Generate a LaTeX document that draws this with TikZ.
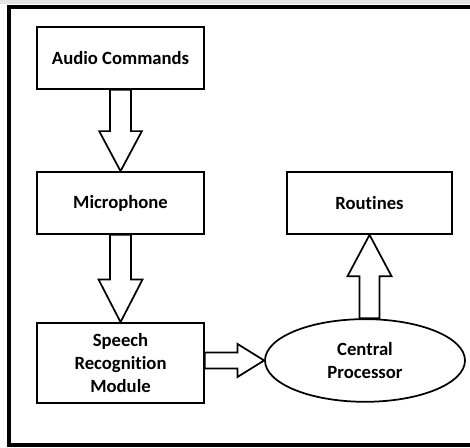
\documentclass[tikz,border=0pt]{standalone}
\usepackage{fontspec}
\setmainfont[Ligatures=NoCommon]{Carlito}
\usetikzlibrary{shapes,calc}
\tikzstyle{blk}=[rectangle,draw,line width=1.3pt,align=center,minimum width=125pt,minimum height=46.5pt,font=\fontsize{14}{17.5}\selectfont\bfseries]
\tikzstyle{oval}=[ellipse,draw,line width=1.3pt,align=center,minimum width=150pt,minimum height=62pt,font=\fontsize{14}{17.5}\selectfont\bfseries]
\tikzstyle{fat}=[draw,fill=white,line width=1.3pt,line join=miter]

% hollow block arrow: shaft half width, head half width, head length, tail, tip
\newcommand{\fatarrow}[5]{%
  \path (#4) coordinate (ft) (#5) coordinate (fh) ($(fh)!#3!(ft)$) coordinate (fb);
  \draw[fat] ($(ft)!#1!90:(fh)$) -- ($(fb)!#1!-90:(ft)$) -- ($(fb)!#2!-90:(ft)$) -- (fh)
    -- ($(fb)!#2!90:(ft)$) -- ($(fb)!#1!90:(ft)$) -- ($(ft)!#1!-90:(fh)$) -- cycle;}

\begin{document}
\begin{tikzpicture}[node distance=108.75pt]
\useasboundingbox (0,0) rectangle (352.5pt,-336pt);
\fill[gray!20] (0,0) rectangle (352.5pt,-3pt);
\draw[line width=3pt] (360pt,-5.6pt) -- (6.9pt,-5.6pt) -- (6.9pt,-334pt) -- (360pt,-334pt);
\node[blk] (audio) at (90.4pt,-43.5pt) {Audio Commands};
\node[blk, below of=audio] (mic) {Microphone};
\node[blk, below of=mic, yshift=-11.25pt, minimum height=60pt] (srm) {Speech\\Recognition\\Module};
\node[blk, right of=mic, xshift=78pt, minimum width=124pt] (rout) {Routines};
\node[oval, right of=srm, xshift=74.6pt, yshift=1.9pt] (cp) {Central\\Processor};
\fatarrow{7.9pt}{16pt}{30pt}{audio.south}{mic.north}
\fatarrow{7.9pt}{16.5pt}{32pt}{mic.south}{srm.north}
\fatarrow{6pt}{12.4pt}{20pt}{srm.east |- cp.west}{cp.west}
\fatarrow{7.5pt}{16.5pt}{31pt}{rout.south |- cp.north}{rout.south}
\end{tikzpicture}
\end{document}
